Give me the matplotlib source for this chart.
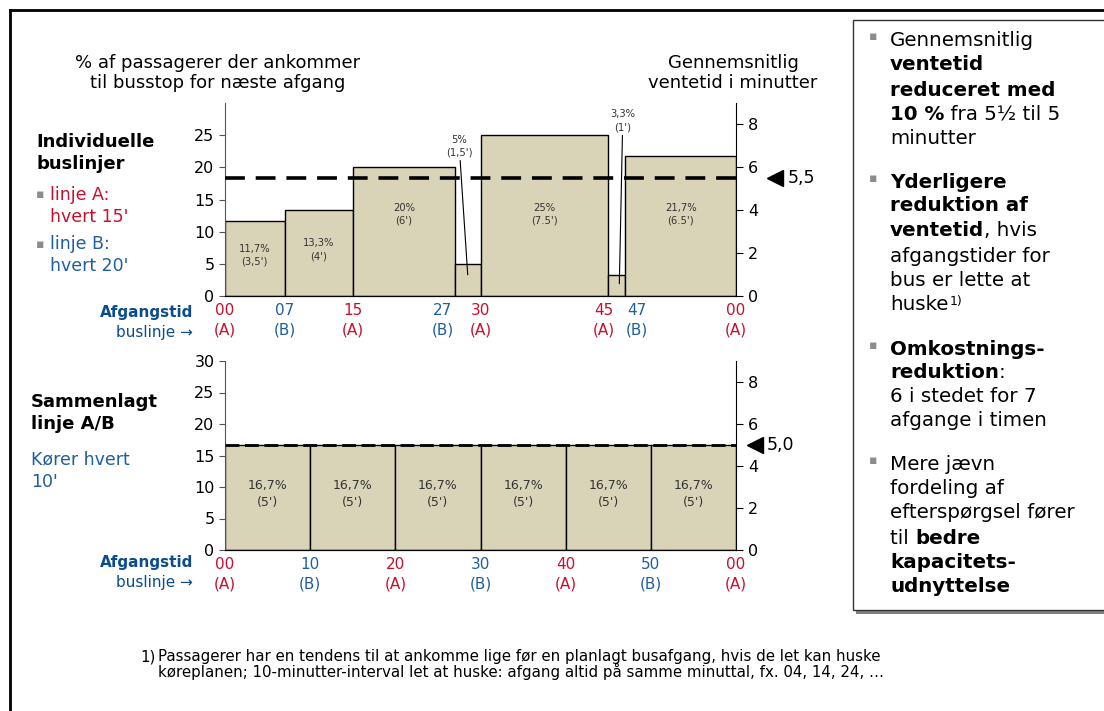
import matplotlib
matplotlib.use("Agg")
import matplotlib.pyplot as plt
from matplotlib.patches import Rectangle
from matplotlib.lines import Line2D
from matplotlib.transforms import blended_transform_factory, ScaledTranslation

# ---- data ----
top_times = [0, 7, 15, 27, 30, 45, 47, 60]
top_lines = ["A", "B", "A", "B", "A", "A", "B", "A"]
top_share = [11.7, 13.3, 20, 5, 25, 3.3, 21.7]
top_share_lbl = ["11,7%", "13,3%", "20%", "5%", "25%", "3,3%", "21,7%"]
top_wait_lbl = ["3,5'", "4'", "6'", "1,5'", "7.5'", "1'", "6.5'"]
top_avg_wait = 5.5

bot_times = [0, 10, 20, 30, 40, 50, 60]
bot_lines = ["A", "B", "A", "B", "A", "B", "A"]
bot_share = [16.7, 16.7, 16.7, 16.7, 16.7, 16.7]
bot_share_lbl = ["16,7%"] * 6
bot_wait_lbl = ["5'"] * 6
bot_avg_wait = 5.0

W, H = 1104, 711
RED = "#C8102E"
BLUE = "#1F5F9F"
DBLUE = "#0B4C8F"
BEIGE = "#D9D4B8"
line_col = {"A": RED, "B": BLUE}

fig = plt.figure(figsize=(W / 100, H / 100), dpi=100)
renderer = fig.canvas.get_renderer()


def fx(x):
    return x / W


def fy(y):
    return 1 - y / H


def ftext(x, y, s, **kw):
    kw.setdefault("va", "center")
    kw.setdefault("fontsize", 12)
    return fig.text(fx(x), fy(y), s, **kw)


def rich(x, y, parts, size=12.5, color="black"):
    cx = x
    for s, w in parts:
        t = ftext(cx, y, s, fontsize=size, fontweight=w, color=color, ha="left")
        cx += t.get_window_extent(renderer).width
    return cx


def chart(rect, times, lines, share, share_lbl, wait_lbl, avg, left_ticks, dash, arrow_x,
          lbl_size, small=None, nudge=None):
    ax = fig.add_axes(rect)
    widths = [b - a for a, b in zip(times[:-1], times[1:])]
    ax.bar(times[:-1], share, width=widths, align="edge", color=BEIGE,
           edgecolor="black", linewidth=1)
    ax.set_xlim(0, 60)
    ax.set_ylim(0, 30)
    ax.set_yticks(left_ticks)
    ax.tick_params(axis="y", labelsize=11.5, length=4, color="#555555")
    ax.set_xticks(times, [f"{t % 60:02d}\n({l})" for t, l in zip(times, lines)])
    ax.tick_params(axis="x", length=0, labelsize=11, pad=5)
    for i, (lbl, l) in enumerate(zip(ax.get_xticklabels(), lines)):
        lbl.set_color(line_col[l])
        lbl.set_linespacing(1.4)
        if nudge and i in nudge:
            lbl.set_transform(lbl.get_transform() +
                              ScaledTranslation(nudge[i] / 100, 0, fig.dpi_scale_trans))
    ax.spines["top"].set_visible(False)
    ax.spines["left"].set_color("#555555")
    ax.spines["right"].set_visible(False)

    for i, (t0, w, h) in enumerate(zip(times[:-1], widths, share)):
        txt = f"{share_lbl[i]}\n({wait_lbl[i]})"
        if small and i in small:
            tx, ty, px, py = small[i]
            ax.annotate(txt, xy=(px, py), xytext=(tx, ty), ha="center", va="center",
                        fontsize=lbl_size, color="#333333", linespacing=1.4,
                        arrowprops=dict(arrowstyle="-", lw=0.8, color="black", shrinkA=0, shrinkB=0))
        else:
            ax.text(t0 + w / 2, 12.7 if h > 17 else h / 2 + 0.5, txt,
                    ha="center", va="center", fontsize=lbl_size, color="#333333", linespacing=1.4)

    ax2 = ax.twinx()
    ax2.set_ylim(0, 9)
    ax2.set_yticks([0, 2, 4, 6, 8])
    ax2.tick_params(axis="y", labelsize=11.5, length=5)
    ax2.spines["top"].set_visible(False)
    ax2.spines["left"].set_visible(False)
    ax2.axhline(avg, color="black", lw=dash[0], linestyle=(0, dash[1]))
    tr = blended_transform_factory(ax2.transAxes, ax2.transData)
    ax2.plot([arrow_x], [avg], marker="<", markersize=11, color="black",
             transform=tr, clip_on=False)
    ax2.text(arrow_x + 0.024, avg, f"{avg:.1f}".replace(".", ","), transform=tr,
             ha="left", va="center", fontsize=12.5)
    return ax, ax2


top_rect = [fx(225), fy(296), (736 - 225) / W, (296 - 103) / H]
bot_rect = [fx(225), fy(550), (736 - 225) / W, (550 - 361) / H]

chart(top_rect, top_times, top_lines, top_share, top_share_lbl, top_wait_lbl,
      top_avg_wait, [0, 5, 10, 15, 20, 25], (2.6, (5.5, 3)), 1.077, 7.2,
      small={3: (27.5, 23.3, 28.5, 3.3), 5: (46.7, 27.2, 46.3, 1.9)},
      nudge={3: -12, 5: -4, 6: 12})
chart(bot_rect, bot_times, bot_lines, bot_share, bot_share_lbl, bot_wait_lbl,
      bot_avg_wait, [0, 5, 10, 15, 20, 25, 30], (2.0, (5, 2)), 1.037, 9)

# axis titles
ftext(218, 73, "% af passagerer der ankommer\ntil busstop for næste afgang", ha="center",
      fontsize=13, linespacing=1.2)
ftext(733, 73, "Gennemsnitlig\nventetid i minutter", ha="center", fontsize=13, linespacing=1.2)

# "Afgangstid / buslinje" row labels
for y0 in (312, 563):
    ftext(193, y0, "Afgangstid", ha="right", fontsize=11, fontweight="bold", color=DBLUE)
    ftext(193, y0 + 20, "buslinje →", ha="right", fontsize=11, color=DBLUE)

# left side texts
ftext(36, 153, "Individuelle\nbuslinjer", fontsize=13, fontweight="bold", linespacing=1.3)
for y0, s, c in [(206, "linje A:\nhvert 15'", RED), (255, "linje B:\nhvert 20'", BLUE)]:
    ftext(36, y0 - 11, "▪", fontsize=9, color="#8C8C8C", ha="left")
    ftext(50, y0, s, fontsize=12.5, color=c, linespacing=1.3)
ftext(31, 413, "Sammenlagt\nlinje A/B", fontsize=13, fontweight="bold", linespacing=1.3)
ftext(31, 471, "Kører hvert\n10'", fontsize=12.5, color=BLUE, linespacing=1.3)

# right hand box with shadow
fig.add_artist(Rectangle((fx(856), fy(614)), fx(260), (614 - 23) / H, transform=fig.transFigure,
                         facecolor="#7F7F7F", edgecolor="none"))
fig.add_artist(Rectangle((fx(853), fy(610)), fx(260), (610 - 20) / H, transform=fig.transFigure,
                         facecolor="white", edgecolor="#333333", lw=1))

B, N = "bold", "normal"
tx = 890
box_lines = [
    (40, [("Gennemsnitlig", N)], True),
    (65, [("ventetid", B)], False),
    (90, [("reduceret med", B)], False),
    (114, [("10 %", B), (" fra 5½ til 5", N)], False),
    (138, [("minutter", N)], False),
    (182, [("Yderligere", B)], True),
    (206, [("reduktion af", B)], False),
    (231, [("ventetid", B), (", hvis", N)], False),
    (256, [("afgangstider for", N)], False),
    (281, [("bus er lette at", N)], False),
    (305, [("huske", N)], False),
    (349, [("Omkostnings-", B)], True),
    (373, [("reduktion", B), (":", N)], False),
    (397, [("6 i stedet for 7", N)], False),
    (421, [("afgange i timen", N)], False),
    (465, [("Mere jævn", N)], True),
    (489, [("fordeling af", N)], False),
    (513, [("efterspørgsel fører", N)], False),
    (538, [("til ", N), ("bedre", B)], False),
    (562, [("kapacitets-", B)], False),
    (586, [("udnyttelse", B)], False),
]
for y0, parts, bullet in box_lines:
    end = rich(tx, y0, parts, size=14.3)
    if bullet:
        ftext(869, y0 - 4, "▪", fontsize=9, color="#8C8C8C", ha="left")
    if parts[0][0] == "huske":
        ftext(end + 1, y0 - 4, "1)", fontsize=9, ha="left")

# footnote
ftext(140, 657, "1)", fontsize=10.8)
ftext(158, 664.5, "Passagerer har en tendens til at ankomme lige før en planlagt busafgang, hvis de let kan huske\n"
      "køreplanen; 10-minutter-interval let at huske: afgang altid på samme minuttal, fx. 04, 14, 24, …",
      fontsize=10.8, linespacing=0.95)

# outer frame
fig.add_artist(Line2D([fx(10), fx(10)], [0, fy(10)], color="black", lw=2))
fig.add_artist(Line2D([fx(10), 1], [fy(10), fy(10)], color="black", lw=2))

fig.savefig("out.png", dpi=100)
